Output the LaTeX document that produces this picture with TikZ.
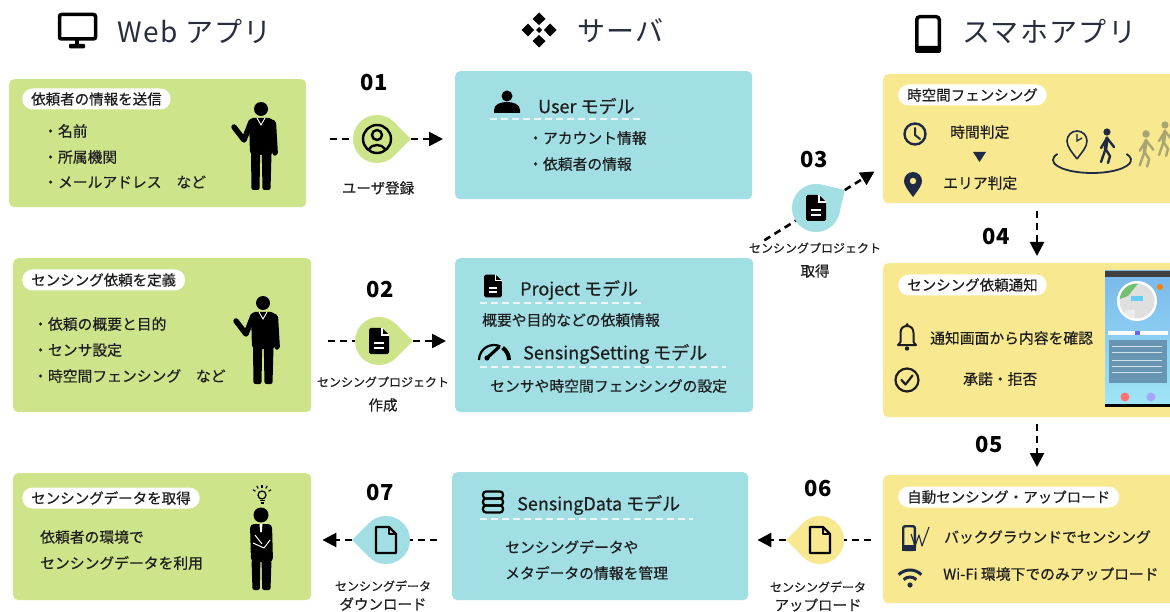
\documentclass[tikz,border=0pt]{standalone}
\usepackage{fontspec}
\setmainfont{Noto Sans CJK JP}
\newfontfamily\medfont[FakeBold=0.5]{Noto Sans CJK JP}
\newfontfamily\headfont[LetterSpace=5]{Noto Sans CJK JP}
\usepackage{xcolor}
\usepackage{tikz}
\usetikzlibrary{arrows.meta, positioning, calc}
\definecolor{webgreen}{RGB}{206,228,139}
\definecolor{srvcyan}{RGB}{161,223,229}
\definecolor{appyellow}{RGB}{248,232,143}
\definecolor{inkdark}{RGB}{30,30,30}
\definecolor{iconnavy}{RGB}{31,42,68}
\definecolor{headgray}{RGB}{40,46,60}
\definecolor{ruleoff}{RGB}{236,246,247}
\definecolor{walkgray}{RGB}{168,165,115}
\definecolor{scrtop}{RGB}{120,184,236}
\definecolor{scrbot}{RGB}{160,230,246}
\definecolor{scrpanel}{RGB}{104,150,178}
\newcommand{\fsz}[1]{\fontsize{#1}{#1}\selectfont}
% pointed side of a step bubble: node, direction, colour
\newcommand{\droptip}[3]{%
  \fill[#3] ([shift={(#2+45:24)}]#1.center) -- ([shift={(#2:33.9)}]#1.center)
    -- ([shift={(#2-45:24)}]#1.center) -- cycle;
  \coordinate (#1tip) at ([shift={(#2:33.9)}]#1.center);}

\tikzset{
  docfill/.pic={
    \fill[rounded corners=1.5pt] (-10,-13) -- (3,-13) -- (10,-6) -- (10,13) -- (-10,13) -- cycle;
    \draw[white, line width=1.2pt] (3,-13) -- (3,-6) -- (10,-6);
    \draw[white, line width=2.4pt] (-5,2) -- (5,2) (-5,7) -- (5,7);
  },
  docline/.pic={
    \draw[line width=2.2pt, line join=round] (-10,-13) -- (3,-13) -- (10,-6) -- (10,13) -- (-10,13) -- cycle;
    \draw[line width=2.2pt, line join=round] (3,-13) -- (3,-6) -- (10,-6);
  },
  suitman/.pic={
    \fill (0,0) circle (7);
    \fill[rounded corners=4pt] (-12,9) -- (12,9) -- (12.5,46) -- (-11,46) -- cycle;      % jacket
    \fill[rounded corners=2pt] (10,10) -- (15,12) -- (17,46) -- (12,47) -- cycle;        % hanging arm
    \draw[line width=5.5pt, line cap=round, line join=round] (-10,13) -- (-17,31) -- (-27,18); % raised arm
    \fill[rounded corners=2pt] (-10,44) -- (-0.8,44) -- (-1.5,81) -- (-9.5,81) -- cycle;
    \fill[rounded corners=2pt] (0.8,44) -- (10.5,44) -- (9.5,81) -- (1.5,81) -- cycle;
    \draw[white, line width=0.9pt] (-4,9) -- (0,16) -- (4,9);
  },
  thinker/.pic={
    \fill (0,0) circle (7.5);
    \fill[rounded corners=4pt] (-11,9) -- (11,9) -- (12,47) -- (-10,47) -- cycle;
    \fill[rounded corners=2pt] (-9.5,45) -- (-0.6,45) -- (-1.2,75) -- (-8.5,75) -- cycle;
    \fill[rounded corners=2pt] (0.6,45) -- (10.5,45) -- (9.5,75) -- (1.2,75) -- cycle;
    \draw[white, line width=1pt, line join=round] (-8,28) -- (3,33) -- (9,25) (-6,20) -- (1,29);
    \fill[white] (-1.5,9) -- (1.5,9) -- (0.8,17) -- (-0.8,17) -- cycle;
  },
  walker/.pic={
    \fill (0,0) circle (3.6);
    \draw[line width=3.6pt, line cap=round] (0,6) -- (-1.5,17);
    \draw[line width=2.4pt, line cap=round, line join=round]
      (-1.5,17) -- (-6,30) (-1.5,17) -- (3,24) -- (1,31)
      (-0.5,7) -- (-6,16) (0.8,7) -- (7,15);
  },
}

\begin{document}
\begin{tikzpicture}[x=1pt, y=-1pt,
  panel/.style={rounded corners=5pt, inner sep=0pt, anchor=north west},
  pill/.style={fill=white, rounded corners=10.5pt, inner xsep=9pt, inner ysep=0pt,
    minimum height=21pt, font=\medfont\fsz{14.5}, text=inkdark, anchor=west},
  txt/.style={font=\medfont\fsz{14.8}, text=inkdark, inner sep=0pt, anchor=west},
  modeltitle/.style={font=\medfont\fsz{18}, text=inkdark, inner sep=0pt, anchor=west},
  colhead/.style={font=\headfont\fsz{28}, text=headgray, inner sep=0pt, anchor=west},
  stepnum/.style={font=\fsz{22}\bfseries, text=black, inner sep=0pt},
  steplabel/.style={font=\medfont\fsz{12}, text=inkdark, inner sep=0pt},
  steplabelbig/.style={font=\medfont\fsz{14.5}, text=inkdark, inner sep=0pt},
  dropnode/.style={circle, minimum size=48pt, inner sep=0pt, outer sep=0pt},
  dashline/.style={line width=2.6pt, dash pattern=on 7pt off 5pt, black},
  arrowtip/.style={-{Triangle[length=14pt, width=14pt]}},
  underl/.style={ruleoff, line width=2pt, dash pattern=on 7pt off 4pt},
]
\useasboundingbox (0,0) rectangle (1170,612);
\fill[white] (0,0) rectangle (1170,612);

%% column headings
\draw[line width=3.5pt, rounded corners=2pt] (59.5,14.5) rectangle (95.5,39);
\fill (75,39) rectangle (79,45);
\fill[rounded corners=1pt] (69,44) rectangle (85,48.5);
\node[colhead] (hweb) at (117,31) {Web アプリ};

\foreach \ang in {0,90,180,270}
  \fill[shift={(539,30)}, rotate=\ang] (5,0) -- (11,-6.5) -- (17.5,0) -- (11,6.5) -- cycle;
\fill (539,27) -- (542,30) -- (539,33) -- (536,30) -- cycle;
\node[colhead] (hsrv) at (577,31) {サーバ};

\draw[line width=3.5pt, rounded corners=3pt] (916.75,16.75) rectangle (939.25,51.25);
\fill[rounded corners=2pt] (915,46) rectangle (941,53);
\node[colhead] (happ) at (962,31) {スマホアプリ};

%% WEB APP column
\node[panel, fill=webgreen, minimum width=297pt, minimum height=128pt] (web1) at (9,79) {};
\node[pill] (web1lab) at (22,99) {依頼者の情報を送信};
\node[txt] (web1a) at (43,131) {・名前};
\node[txt] (web1b) at (43,157) {・所属機関};
\node[txt] (web1c) at (43,182) {・メールアドレス　など};
\pic at (261,109) {suitman};

\node[panel, fill=webgreen, minimum width=298pt, minimum height=154pt] (web2) at (13,258) {};
\node[pill] (web2lab) at (22,280) {センシング依頼を定義};
\node[txt] (web2a) at (33,324) {・依頼の概要と目的};
\node[txt] (web2b) at (33,350) {・センサ設定};
\node[txt] (web2c) at (33,376) {・時空間フェンシング　など};
\pic at (263,303) {suitman};

\node[panel, fill=webgreen, minimum width=298pt, minimum height=127pt] (web3) at (13,473) {};
\node[pill] (web3lab) at (22,498) {センシングデータを取得};
\node[txt] (web3a) at (40,537) {依頼者の環境で};
\node[txt] (web3b) at (40,563) {センシングデータを利用};
\pic at (261,515) {thinker};
\draw[line width=1.2pt] (262,495) circle (4);
\draw[line width=1.2pt] (259.5,500.5) -- (264.5,500.5) (260.5,503) -- (263.5,503);
\foreach \ang in {-150,-120,-90,-60,-30}
  \draw[line width=1.1pt] ([shift={(\ang:7.5)}]262,495) -- ([shift={(\ang:10.5)}]262,495);

%% SERVER column
\node[panel, fill=srvcyan, minimum width=297pt, minimum height=128pt] (srv1) at (455,71) {};
\fill (507,96) circle (5.5);
\fill (494,113) -- (494,110) .. controls (494,104) and (501,102) .. (507,102)
  .. controls (513,102) and (520,104) .. (520,110) -- (520,113) -- cycle;
\node[modeltitle] (srv1t) at (538,106) {User モデル};
\draw[underl] (490,119) -- (641,119);
\node[txt] (srv1a) at (528,138) {・アカウント情報};
\node[txt] (srv1b) at (528,164) {・依頼者の情報};

\node[panel, fill=srvcyan, minimum width=298pt, minimum height=154pt] (srv2) at (455,258) {};
\pic[scale=0.88] at (493,286) {docfill};
\node[modeltitle] (srv2t) at (520,290) {Project モデル};
\draw[underl] (480,303) -- (643,303);
\node[txt] (srv2a) at (482,320) {概要や目的などの依頼情報};
\draw[line width=2.2pt] ([shift={(180:15)}]494,360) arc[start angle=180, end angle=295, radius=15];
\draw[line width=4pt] ([shift={(305:15)}]494,360) arc[start angle=305, end angle=360, radius=15];
\draw[line width=3.2pt, line cap=round] (487,358) -- (499,347);
\fill (487,358) circle (2.6);
\node[modeltitle] (srv2s) at (523,354) {SensingSetting モデル};
\draw[underl] (480,367) -- (726,367);
\node[txt] (srv2b) at (490,386) {センサや時空間フェンシングの設定};

\node[panel, fill=srvcyan, minimum width=296pt, minimum height=128pt] (srv3) at (452,472) {};
\foreach \yy in {491.5,498.5,505.5}
  \draw[line width=2.2pt, rounded corners=3pt] (483,\yy) rectangle (503,\yy+7);
\node[modeltitle] (srv3t) at (517,505) {SensingData モデル};
\draw[underl] (480,519) -- (693,519);
\node[txt] (srv3a) at (505,547) {センシングデータや};
\node[txt] (srv3b) at (505,573) {メタデータの情報を管理};

%% SMARTPHONE APP column
\node[panel, fill=appyellow, minimum width=300pt, minimum height=129pt] (app1) at (883,74) {};
\node[pill] (app1lab) at (898,95) {時空間フェンシング};
\draw[iconnavy, line width=2.4pt] (915,134) circle (10.5);
\draw[iconnavy, line width=2pt, line cap=round, line join=round] (915,128) -- (915,135) -- (920,139);
\node[txt] (app1a) at (950,132) {時間判定};
\fill[iconnavy] (973,152) -- (986,152) -- (979.5,162) -- cycle;
\fill[iconnavy] (913,197) .. controls (907,189) and (904,185) .. (904,181)
  arc[start angle=180, end angle=360, radius=9] .. controls (922,185) and (919,189) .. (913,197);
\fill[appyellow] (913,181) circle (3.2);
\node[txt] (app1b) at (943,183) {エリア判定};
% fenced area with walkers
\draw[iconnavy, line width=1.8pt] ([shift={(-28:39 and 13)}]1092,160)
  arc[start angle=-28, end angle=208, x radius=39, y radius=13];
\draw[iconnavy, line width=1.6pt, line join=round] (1077,159)
  .. controls (1072,152) and (1067,147) .. (1067,141)
  arc[start angle=180, end angle=360, radius=10]
  .. controls (1087,147) and (1082,152) .. (1077,159);
\draw[iconnavy, line width=1.3pt] (1077,134) -- (1077,141) -- (1082,138);
\pic[iconnavy] at (1107,132) {walker};
\pic[walkgray, scale=1.05] at (1146,134) {walker};
\pic[walkgray] at (1165,125) {walker};

\node[panel, fill=appyellow, minimum width=300pt, minimum height=154pt] (app2) at (883,263) {};
\node[pill] (app2lab) at (898,285) {センシング依頼通知};
\draw[inkdark, line width=2pt, line join=round] (898,345) -- (900.5,342) -- (900.5,333)
  .. controls (900.5,328) and (903.5,326) .. (907,326) .. controls (910.5,326) and (913.5,328) .. (913.5,333)
  -- (913.5,342) -- (916,345) -- cycle;
\fill[inkdark] (907,348.5) circle (2.2);
\fill[inkdark] (907,324.5) circle (1.5);
\node[txt] (app2a) at (930,338) {通知画面から内容を確認};
\draw[inkdark, line width=2.2pt] (907,380) circle (11.5);
\draw[inkdark, line width=2.2pt, line cap=round, line join=round] (901.5,380) -- (905.5,384.5) -- (912.5,375.5);
\node[txt] (app2b) at (963,379) {承諾・拒否};
% notification screen capture
\fill[top color=scrtop, bottom color=scrbot] (1105,271) rectangle (1172,406);
\fill[black!75] (1105,271) rectangle (1172,277);
\fill[white] (1137,301) circle (20);
\begin{scope}
  \clip (1137,301) circle (17.5);
  \fill[gray!25] (1117,281) rectangle (1157,321);
  \fill[green!55!black!55] (1117,281) -- (1140,281) -- (1128,296) -- (1117,300) -- cycle;
  \fill[white!85!gray] (1125,310) rectangle (1135,320);
  \fill[cyan!60] (1131,296) rectangle (1143,301);
\end{scope}
\fill[orange] (1160,287) circle (3);
\fill[white] (1108,331) rectangle (1168,335);
\fill[blue!60] (1135,331) rectangle (1140,335);
\fill[scrpanel] (1109,340) rectangle (1167,383);
\foreach \yy in {346,352,360,366,372}
  \draw[white!70!scrpanel, line width=1pt] (1112,\yy) -- (1162,\yy);
\fill[red!55] (1125,397) circle (4.5);
\fill[blue!35] (1151,397) circle (4.5);
\fill[black] (1105,404) rectangle (1172,407);

\node[panel, fill=appyellow, minimum width=300pt, minimum height=128pt] (app3) at (883,475) {};
\node[pill] (app3lab) at (898,497) {自動センシング・アップロード};
\draw[iconnavy, line width=2.4pt, rounded corners=2pt] (903.2,526.2) rectangle (914.8,549.8);
\fill[iconnavy] (902,545) rectangle (916,551);
\draw[iconnavy, line width=1.1pt, line join=round] (911,534) -- (915,546) -- (919,535) -- (922,546) -- (929,527);
\node[txt] (app3a) at (944,537) {バックグラウンドでセンシング};
\fill[iconnavy] (910,585) circle (2.6);
\draw[iconnavy, line width=3pt] ([shift={(225:9)}]910,586) arc[start angle=225, end angle=315, radius=9];
\draw[iconnavy, line width=3pt] ([shift={(225:16)}]910,586) arc[start angle=225, end angle=315, radius=16];
\node[txt] (app3b) at (943,574) {Wi-Fi 環境下でのみアップロード};

%% STEPS
% 01 user registration
\node[stepnum] (n1) at (374,83) {01};
\node[dropnode, fill=webgreen] (d1) at (377,139) {};
\droptip{d1}{0}{webgreen}
\begin{scope}[shift={(d1.center)}, line width=2.4pt]
  \draw (0,0) circle (14);
  \draw (0,-4) circle (5);
  \draw (-8.5,10.5) .. controls (-5,4.5) and (5,4.5) .. (8.5,10.5);
\end{scope}
\node[steplabelbig] (c1) at (378,188) {ユーザ登録};
\coordinate (s1) at (330,139);
\draw[dashline] (s1) -- (d1);
\draw[dashline, arrowtip, shorten >=12pt] (d1tip) -- (srv1.west |- d1);

% 02 project creation
\node[stepnum] (n2) at (380,290) {02};
\node[dropnode, fill=webgreen] (d2) at (379,341) {};
\droptip{d2}{0}{webgreen}
\pic at (d2) {docfill};
\node[steplabel] (c2a) at (383,382) {センシングプロジェクト};
\node[steplabelbig] (c2b) at (383,405) {作成};
\draw[dashline, shorten <=17pt] (web2.east |- d2) -- (d2);
\draw[dashline, arrowtip, shorten >=9pt] (d2tip) -- (srv2.west |- d2);

% 03 project fetch
\node[stepnum] (n3) at (814,160) {03};
\node[dropnode, fill=srvcyan] (d3) at (816,208) {};
\droptip{d3}{-32}{srvcyan}
\pic at (d3) {docfill};
\node[steplabel] (c3a) at (815,248) {センシングプロジェクト};
\node[steplabelbig] (c3b) at (815,271) {取得};
\path ([shift={(148:61)}]d3.center) coordinate (s3)
      ([shift={(-32:69)}]d3.center) coordinate (a3);
\draw[dashline] (s3) -- (d3);
\draw[dashline, arrowtip] (d3tip) -- (a3);

% 04 / 05 down the app column
\coordinate (col) at (1037,0);
\node[stepnum] (n4) at (996,237) {04};
\draw[dashline, arrowtip, shorten <=8pt, shorten >=7pt] (col |- app1.south) -- (col |- app2.north);
\node[stepnum] (n5) at (989,445) {05};
\draw[dashline, arrowtip, shorten <=7pt, shorten >=8pt] (col |- app2.south) -- (col |- app3.north);

% 06 data upload
\node[stepnum] (n6) at (818,489) {06};
\node[dropnode, fill=appyellow] (d6) at (820,540) {};
\droptip{d6}{180}{appyellow}
\pic at (d6) {docline};
\node[steplabel] (c6a) at (818,587) {センシングデータ};
\node[steplabelbig] (c6b) at (818,605) {アップロード};
\draw[dashline, shorten <=12pt] (app3.west |- d6) -- (d6);
\draw[dashline, arrowtip, shorten >=9pt] (d6tip) -- (srv3.east |- d6);

% 07 data download
\node[stepnum] (n7) at (380,493) {07};
\node[dropnode, fill=srvcyan] (d7) at (386,540) {};
\droptip{d7}{180}{srvcyan}
\pic at (d7) {docline};
\node[steplabel] (c7a) at (383,586) {センシングデータ};
\node[steplabelbig] (c7b) at (383,604) {ダウンロード};
\draw[dashline, shorten <=15pt] (srv3.west |- d7) -- (d7);
\draw[dashline, arrowtip, shorten >=11pt] (d7tip) -- (web3.east |- d7);
\end{tikzpicture}
\end{document}
